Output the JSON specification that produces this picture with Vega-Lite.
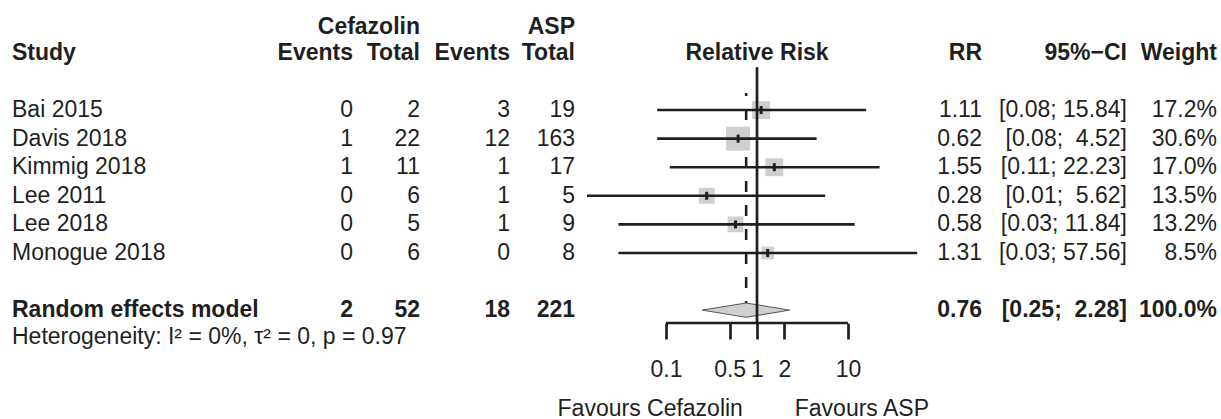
{
  "$schema": "https://vega.github.io/schema/vega-lite/v6.json",
  "padding": 0,
  "spacing": 0,
  "bounds": "flush",
  "background": "white",
  "config": {
    "view": {"stroke": null},
    "font": "Liberation Sans",
    "text": {"fontSize": 23, "color": "#1f1f1f", "baseline": "middle", "font": "Liberation Sans"}
  },
  "datasets": {
    "studies": [
      {"study": "Bai 2015", "e1": 0, "n1": 2, "e2": 3, "n2": 19, "rr": 1.11, "lo": 0.08, "hi": 15.84, "ci": "[0.08; 15.84]", "w": 0.172, "row": 1},
      {"study": "Davis 2018", "e1": 1, "n1": 22, "e2": 12, "n2": 163, "rr": 0.62, "lo": 0.08, "hi": 4.52, "ci": "[0.08;\u00a0 4.52]", "w": 0.306, "row": 2},
      {"study": "Kimmig 2018", "e1": 1, "n1": 11, "e2": 1, "n2": 17, "rr": 1.55, "lo": 0.11, "hi": 22.23, "ci": "[0.11; 22.23]", "w": 0.170, "row": 3},
      {"study": "Lee 2011", "e1": 0, "n1": 6, "e2": 1, "n2": 5, "rr": 0.28, "lo": 0.01, "hi": 5.62, "ci": "[0.01;\u00a0 5.62]", "w": 0.135, "row": 4},
      {"study": "Lee 2018", "e1": 0, "n1": 5, "e2": 1, "n2": 9, "rr": 0.58, "lo": 0.03, "hi": 11.84, "ci": "[0.03; 11.84]", "w": 0.132, "row": 5},
      {"study": "Monogue 2018", "e1": 0, "n1": 6, "e2": 0, "n2": 8, "rr": 1.31, "lo": 0.03, "hi": 57.56, "ci": "[0.03; 57.56]", "w": 0.085, "row": 6}
    ],
    "summary": [
      {"study": "Random effects model", "e1": 2, "n1": 52, "e2": 18, "n2": 221, "rr": 0.76, "lo": 0.25, "hi": 2.28, "ci": "[0.25;\u00a0 2.28]", "w": 1.0, "row": 8}
    ],
    "diamond": [
      {"x": 0.25, "top": 8, "bottom": 8},
      {"x": 0.76, "top": 7.75, "bottom": 8.25},
      {"x": 2.28, "top": 8, "bottom": 8}
    ],
    "leftHead": [
      {"label": "Cefazolin", "col": 2, "row": -1.9},
      {"label": "ASP", "col": 4, "row": -1.9},
      {"label": "Events", "col": 1, "row": -1},
      {"label": "Total", "col": 2, "row": -1},
      {"label": "Events", "col": 3, "row": -1},
      {"label": "Total", "col": 4, "row": -1}
    ],
    "studyHead": [{"label": "Study", "col": 0, "row": -1}],
    "rightHead": [
      {"label": "RR", "col": 0, "row": -1},
      {"label": "95%−CI", "col": 1, "row": -1},
      {"label": "Weight", "col": 2, "row": -1}
    ],
    "forestHead": [{"label": "Relative Risk", "x": 1, "row": -1}],
    "notes": [{"label": "Heterogeneity: I² = 0%, τ² = 0, p = 0.97", "col": 0, "row": 8.93}],
    "favours": [
      {"label": "Favours Cefazolin", "side": "left", "x": 0.7, "row": 11.45},
      {"label": "Favours ASP", "side": "right", "x": 2.6, "row": 11.45}
    ]
  },
  "hconcat": [
    {
      "width": 587,
      "height": 323,
      "layer": [
        {
          "data": {"name": "leftHead"},
          "mark": {"type": "text", "align": "right", "fontWeight": "bold"},
          "encoding": {
            "x": {"field": "col", "type": "quantitative", "scale": {"domain": [0, 1, 2, 3, 4], "range": [12, 353, 420, 510, 575], "nice": false, "zero": false}, "axis": null},
            "y": {"field": "row", "type": "quantitative", "scale": {"domain": [-2.85, 8.45], "reverse": true, "nice": false, "zero": false}, "axis": null},
            "text": {"field": "label"}
          }
        },
        {
          "data": {"name": "studyHead"},
          "mark": {"type": "text", "align": "left", "fontWeight": "bold"},
          "encoding": {
            "x": {"field": "col", "type": "quantitative", "axis": null},
            "y": {"field": "row", "type": "quantitative", "axis": null},
            "text": {"field": "label"}
          }
        },
        {
          "data": {"name": "notes"},
          "mark": {"type": "text", "align": "left"},
          "encoding": {
            "x": {"field": "col", "type": "quantitative", "axis": null},
            "y": {"field": "row", "type": "quantitative", "axis": null},
            "text": {"field": "label"}
          }
        },
        {
          "data": {"name": "studies"},
          "mark": {"type": "text", "align": "left"},
          "encoding": {
            "x": {"datum": 0, "type": "quantitative", "axis": null},
            "y": {"field": "row", "type": "quantitative", "axis": null},
            "text": {"field": "study"}
          }
        },
        {
          "data": {"name": "studies"},
          "mark": {"type": "text", "align": "right"},
          "encoding": {
            "x": {"datum": 1, "type": "quantitative", "axis": null},
            "y": {"field": "row", "type": "quantitative", "axis": null},
            "text": {"field": "e1"}
          }
        },
        {
          "data": {"name": "studies"},
          "mark": {"type": "text", "align": "right"},
          "encoding": {
            "x": {"datum": 2, "type": "quantitative", "axis": null},
            "y": {"field": "row", "type": "quantitative", "axis": null},
            "text": {"field": "n1"}
          }
        },
        {
          "data": {"name": "studies"},
          "mark": {"type": "text", "align": "right"},
          "encoding": {
            "x": {"datum": 3, "type": "quantitative", "axis": null},
            "y": {"field": "row", "type": "quantitative", "axis": null},
            "text": {"field": "e2"}
          }
        },
        {
          "data": {"name": "studies"},
          "mark": {"type": "text", "align": "right"},
          "encoding": {
            "x": {"datum": 4, "type": "quantitative", "axis": null},
            "y": {"field": "row", "type": "quantitative", "axis": null},
            "text": {"field": "n2"}
          }
        },
        {
          "data": {"name": "summary"},
          "mark": {"type": "text", "align": "left", "fontWeight": "bold"},
          "encoding": {
            "x": {"datum": 0, "type": "quantitative", "axis": null},
            "y": {"field": "row", "type": "quantitative", "axis": null},
            "text": {"field": "study"}
          }
        },
        {
          "data": {"name": "summary"},
          "mark": {"type": "text", "align": "right", "fontWeight": "bold"},
          "encoding": {
            "x": {"datum": 1, "type": "quantitative", "axis": null},
            "y": {"field": "row", "type": "quantitative", "axis": null},
            "text": {"field": "e1"}
          }
        },
        {
          "data": {"name": "summary"},
          "mark": {"type": "text", "align": "right", "fontWeight": "bold"},
          "encoding": {
            "x": {"datum": 2, "type": "quantitative", "axis": null},
            "y": {"field": "row", "type": "quantitative", "axis": null},
            "text": {"field": "n1"}
          }
        },
        {
          "data": {"name": "summary"},
          "mark": {"type": "text", "align": "right", "fontWeight": "bold"},
          "encoding": {
            "x": {"datum": 3, "type": "quantitative", "axis": null},
            "y": {"field": "row", "type": "quantitative", "axis": null},
            "text": {"field": "e2"}
          }
        },
        {
          "data": {"name": "summary"},
          "mark": {"type": "text", "align": "right", "fontWeight": "bold"},
          "encoding": {
            "x": {"datum": 4, "type": "quantitative", "axis": null},
            "y": {"field": "row", "type": "quantitative", "axis": null},
            "text": {"field": "n2"}
          }
        }
      ]
    },
    {
      "width": 333,
      "height": 323,
      "layer": [
        {
          "data": {"name": "summary"},
          "mark": {"type": "rule", "color": "#1f1f1f", "strokeWidth": 2.6, "strokeDash": [11, 13], "strokeDashOffset": 8},
          "encoding": {
            "x": {"field": "rr", "type": "quantitative", "title": null, "scale": {"type": "log", "domain": [0.01355, 61.8], "nice": false}, "axis": {"values": [0.1, 0.5, 1, 2, 10], "format": "~g", "domain": false, "grid": false, "title": null, "ticks": true, "tickSize": 16, "tickWidth": 2.7, "tickColor": "#1f1f1f", "labelFont": "Liberation Sans", "labelFontSize": 23, "labelColor": "#1f1f1f", "labelPadding": 19, "labelOverlap": false, "labelFlush": false}},
            "y": {"datum": 0.4, "type": "quantitative", "scale": {"domain": [-2.85, 8.45], "reverse": true, "nice": false, "zero": false}, "axis": null},
            "y2": {"datum": 7.8}
          }
        },
        {
          "data": {"name": "studies"},
          "mark": {"type": "square", "filled": true, "color": "#cfcfcf", "opacity": 1},
          "encoding": {
            "x": {"field": "rr", "type": "quantitative", "title": null, "axis": {"values": [0.1, 0.5, 1, 2, 10], "format": "~g", "domain": false, "grid": false, "title": null, "ticks": true, "tickSize": 16, "tickWidth": 2.7, "tickColor": "#1f1f1f", "labelFont": "Liberation Sans", "labelFontSize": 23, "labelColor": "#1f1f1f", "labelPadding": 19, "labelOverlap": false, "labelFlush": false}},
            "y": {"field": "row", "type": "quantitative", "axis": null},
            "size": {"field": "w", "type": "quantitative", "scale": {"type": "linear", "domain": [0, 0.306], "range": [0, 576]}, "legend": null}
          }
        },
        {
          "data": {"name": "studies"},
          "mark": {"type": "rule", "color": "#1f1f1f", "strokeWidth": 2.6, "clip": true},
          "encoding": {
            "x": {"field": "lo", "type": "quantitative", "title": null, "axis": {"values": [0.1, 0.5, 1, 2, 10], "format": "~g", "domain": false, "grid": false, "title": null, "ticks": true, "tickSize": 16, "tickWidth": 2.7, "tickColor": "#1f1f1f", "labelFont": "Liberation Sans", "labelFontSize": 23, "labelColor": "#1f1f1f", "labelPadding": 19, "labelOverlap": false, "labelFlush": false}},
            "x2": {"field": "hi"},
            "y": {"field": "row", "type": "quantitative", "axis": null}
          }
        },
        {
          "data": {"name": "studies"},
          "mark": {"type": "tick", "orient": "vertical", "color": "#1f1f1f", "size": 8, "thickness": 3, "opacity": 1},
          "encoding": {
            "x": {"field": "rr", "type": "quantitative", "title": null, "axis": {"values": [0.1, 0.5, 1, 2, 10], "format": "~g", "domain": false, "grid": false, "title": null, "ticks": true, "tickSize": 16, "tickWidth": 2.7, "tickColor": "#1f1f1f", "labelFont": "Liberation Sans", "labelFontSize": 23, "labelColor": "#1f1f1f", "labelPadding": 19, "labelOverlap": false, "labelFlush": false}},
            "y": {"field": "row", "type": "quantitative", "axis": null}
          }
        },
        {
          "data": {"name": "diamond"},
          "mark": {"type": "area", "orient": "vertical", "color": "#d0d0d0", "stroke": "#555555", "strokeWidth": 1, "opacity": 1},
          "encoding": {
            "x": {"field": "x", "type": "quantitative", "title": null, "axis": {"values": [0.1, 0.5, 1, 2, 10], "format": "~g", "domain": false, "grid": false, "title": null, "ticks": true, "tickSize": 16, "tickWidth": 2.7, "tickColor": "#1f1f1f", "labelFont": "Liberation Sans", "labelFontSize": 23, "labelColor": "#1f1f1f", "labelPadding": 19, "labelOverlap": false, "labelFlush": false}},
            "y": {"field": "top", "type": "quantitative", "axis": null},
            "y2": {"field": "bottom"}
          }
        },
        {
          "data": {"values": [{}]},
          "mark": {"type": "rule", "color": "#1f1f1f", "strokeWidth": 2.7},
          "encoding": {
            "x": {"datum": 1, "type": "quantitative", "title": null, "axis": {"values": [0.1, 0.5, 1, 2, 10], "format": "~g", "domain": false, "grid": false, "title": null, "ticks": true, "tickSize": 16, "tickWidth": 2.7, "tickColor": "#1f1f1f", "labelFont": "Liberation Sans", "labelFontSize": 23, "labelColor": "#1f1f1f", "labelPadding": 19, "labelOverlap": false, "labelFlush": false}},
            "y": {"datum": -0.5, "type": "quantitative", "axis": null},
            "y2": {"datum": 8.45}
          }
        },
        {
          "data": {"values": [{}]},
          "mark": {"type": "rule", "color": "#1f1f1f", "strokeWidth": 2.7},
          "encoding": {
            "x": {"datum": 0.1, "type": "quantitative", "title": null, "axis": {"values": [0.1, 0.5, 1, 2, 10], "format": "~g", "domain": false, "grid": false, "title": null, "ticks": true, "tickSize": 16, "tickWidth": 2.7, "tickColor": "#1f1f1f", "labelFont": "Liberation Sans", "labelFontSize": 23, "labelColor": "#1f1f1f", "labelPadding": 19, "labelOverlap": false, "labelFlush": false}},
            "x2": {"datum": 10},
            "y": {"datum": 8.45, "type": "quantitative", "axis": null}
          }
        },
        {
          "data": {"name": "forestHead"},
          "mark": {"type": "text", "align": "center", "fontWeight": "bold"},
          "encoding": {
            "x": {"field": "x", "type": "quantitative", "title": null, "axis": {"values": [0.1, 0.5, 1, 2, 10], "format": "~g", "domain": false, "grid": false, "title": null, "ticks": true, "tickSize": 16, "tickWidth": 2.7, "tickColor": "#1f1f1f", "labelFont": "Liberation Sans", "labelFontSize": 23, "labelColor": "#1f1f1f", "labelPadding": 19, "labelOverlap": false, "labelFlush": false}},
            "y": {"field": "row", "type": "quantitative", "axis": null},
            "text": {"field": "label"}
          }
        },
        {
          "data": {"name": "favours"},
          "transform": [{"filter": "datum.side === 'left'"}],
          "mark": {"type": "text", "align": "right"},
          "encoding": {
            "x": {"field": "x", "type": "quantitative", "title": null, "axis": {"values": [0.1, 0.5, 1, 2, 10], "format": "~g", "domain": false, "grid": false, "title": null, "ticks": true, "tickSize": 16, "tickWidth": 2.7, "tickColor": "#1f1f1f", "labelFont": "Liberation Sans", "labelFontSize": 23, "labelColor": "#1f1f1f", "labelPadding": 19, "labelOverlap": false, "labelFlush": false}},
            "y": {"field": "row", "type": "quantitative", "axis": null},
            "text": {"field": "label"}
          }
        },
        {
          "data": {"name": "favours"},
          "transform": [{"filter": "datum.side === 'right'"}],
          "mark": {"type": "text", "align": "left"},
          "encoding": {
            "x": {"field": "x", "type": "quantitative", "title": null, "axis": {"values": [0.1, 0.5, 1, 2, 10], "format": "~g", "domain": false, "grid": false, "title": null, "ticks": true, "tickSize": 16, "tickWidth": 2.7, "tickColor": "#1f1f1f", "labelFont": "Liberation Sans", "labelFontSize": 23, "labelColor": "#1f1f1f", "labelPadding": 19, "labelOverlap": false, "labelFlush": false}},
            "y": {"field": "row", "type": "quantitative", "axis": null},
            "text": {"field": "label"}
          }
        }
      ]
    },
    {
      "width": 301,
      "height": 323,
      "layer": [
        {
          "data": {"name": "rightHead"},
          "mark": {"type": "text", "align": "right", "fontWeight": "bold"},
          "encoding": {
            "x": {"field": "col", "type": "quantitative", "scale": {"domain": [0, 1, 2], "range": [62, 207, 297], "nice": false, "zero": false}, "axis": null},
            "y": {"field": "row", "type": "quantitative", "scale": {"domain": [-2.85, 8.45], "reverse": true, "nice": false, "zero": false}, "axis": null},
            "text": {"field": "label"}
          }
        },
        {
          "data": {"name": "studies"},
          "mark": {"type": "text", "align": "right"},
          "encoding": {
            "x": {"datum": 0, "type": "quantitative", "axis": null},
            "y": {"field": "row", "type": "quantitative", "axis": null},
            "text": {"field": "rr", "format": ".2f"}
          }
        },
        {
          "data": {"name": "studies"},
          "mark": {"type": "text", "align": "right"},
          "encoding": {
            "x": {"datum": 1, "type": "quantitative", "axis": null},
            "y": {"field": "row", "type": "quantitative", "axis": null},
            "text": {"field": "ci"}
          }
        },
        {
          "data": {"name": "studies"},
          "mark": {"type": "text", "align": "right"},
          "encoding": {
            "x": {"datum": 2, "type": "quantitative", "axis": null},
            "y": {"field": "row", "type": "quantitative", "axis": null},
            "text": {"field": "w", "format": ".1%"}
          }
        },
        {
          "data": {"name": "summary"},
          "mark": {"type": "text", "align": "right", "fontWeight": "bold"},
          "encoding": {
            "x": {"datum": 0, "type": "quantitative", "axis": null},
            "y": {"field": "row", "type": "quantitative", "axis": null},
            "text": {"field": "rr", "format": ".2f"}
          }
        },
        {
          "data": {"name": "summary"},
          "mark": {"type": "text", "align": "right", "fontWeight": "bold"},
          "encoding": {
            "x": {"datum": 1, "type": "quantitative", "axis": null},
            "y": {"field": "row", "type": "quantitative", "axis": null},
            "text": {"field": "ci"}
          }
        },
        {
          "data": {"name": "summary"},
          "mark": {"type": "text", "align": "right", "fontWeight": "bold"},
          "encoding": {
            "x": {"datum": 2, "type": "quantitative", "axis": null},
            "y": {"field": "row", "type": "quantitative", "axis": null},
            "text": {"field": "w", "format": ".1%"}
          }
        }
      ]
    }
  ]
}
